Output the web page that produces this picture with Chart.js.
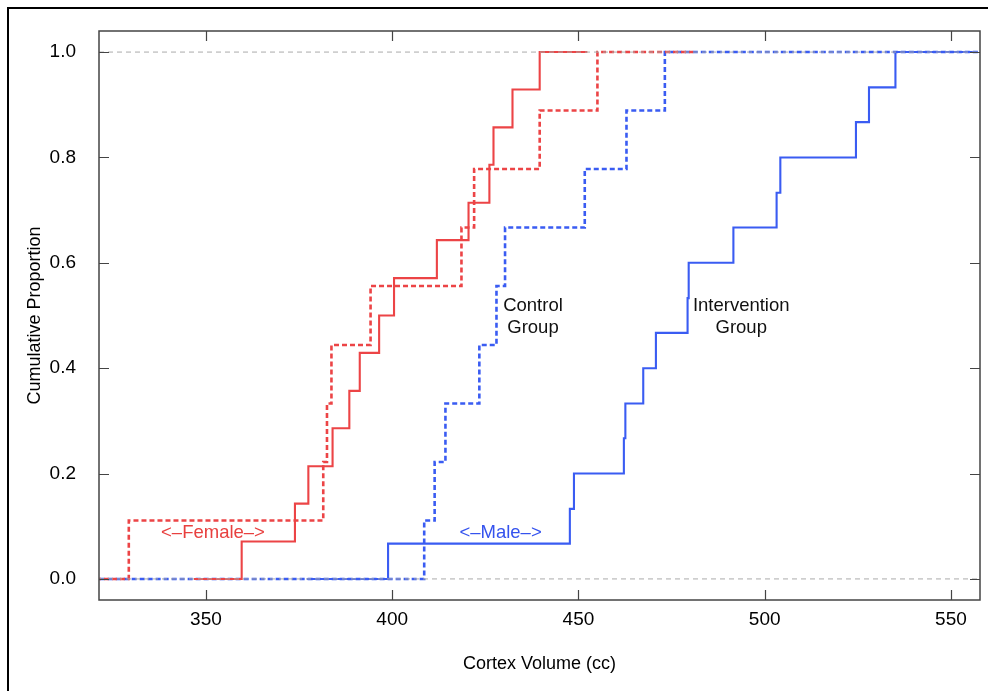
<!DOCTYPE html>
<html>
<head>
<meta charset="utf-8">
<script src="https://cdn.jsdelivr.net/npm/chart.js@4"></script>
<style>
  html, body { margin: 0; padding: 0; background: #fff; overflow: hidden; }
  #wrap { position: relative; width: 988px; height: 691px; }
  #c { position: absolute; left: 0; top: 0; }
  #frame { position: absolute; left: 7px; top: 7px; width: 1000px; height: 720px;
           border-left: 2px solid #000; border-top: 2px solid #000; pointer-events: none; }
</style>
</head>
<body>
<div id="wrap">
  <canvas id="c" width="988" height="691"></canvas>
  <div id="frame"></div>
</div>
<script>
// ---- data ----
const xTicks = [350, 400, 450, 500, 550];
const yTicks = [0, 0.2, 0.4, 0.6, 0.8, 1.0];

// Female, intervention group (solid red): jump locations and cumulative proportions
const femaleIntervention = [359.6, 373.9, 377.5, 384.0, 388.5, 391.3, 396.5, 400.5, 412.0, 420.5, 426.1, 427.2, 432.3, 439.6];
const femaleInterventionProp = [0.071, 0.143, 0.214, 0.286, 0.357, 0.429, 0.500, 0.571, 0.643, 0.714, 0.786, 0.857, 0.929, 1.000];
const femaleInterventionSpan = [346.8, 452.4];

// Female, control group (dashed red)
const femaleControl = [329.3, 381.5, 382.5, 383.7, 394.2, 418.6, 422.0, 439.6, 455.1];
const femaleControlProp = [0.111, 0.222, 0.333, 0.444, 0.556, 0.667, 0.778, 0.889, 1.000];
const femaleControlSpan = [303.3, 480.8];

// Male, control group (dashed blue)
const maleControl = [408.6, 411.4, 414.3, 423.4, 428.0, 430.3, 451.7, 462.9, 473.2];
const maleControlProp = [0.111, 0.222, 0.333, 0.444, 0.556, 0.667, 0.778, 0.889, 1.000];
const maleControlSpan = [300.0, 580.0];

// Male, intervention group (solid blue)
const maleIntervention = [398.9, 447.7, 448.8, 462.2, 462.6, 467.4, 470.8, 479.3, 479.6, 491.6, 503.2, 504.2, 524.5, 528.0, 535.1];
const maleInterventionProp = [0.067, 0.133, 0.200, 0.267, 0.333, 0.400, 0.467, 0.533, 0.600, 0.667, 0.733, 0.800, 0.867, 0.933, 1.000];
const maleInterventionSpan = [377.1, 556.9];

const xRange = [321.3, 557.8];
const yRange = [-0.04, 1.04];

// text annotations (data coordinates)
const notes = [
  { text: '<\u2013Female\u2013>', x: 351.9, y: 0.087, color: '#e8403f' },
  { text: '<\u2013Male\u2013>', x: 429.1, y: 0.087, color: '#3553ee' },
  { text: 'Control', x: 437.8, y: 0.519, color: '#111' },
  { text: 'Group', x: 437.8, y: 0.477, color: '#111' },
  { text: 'Intervention', x: 493.7, y: 0.518, color: '#111' },
  { text: 'Group', x: 493.7, y: 0.476, color: '#111' }
];

// ---- build step series ----
function ecdf(jumps, props, span) {
  const pts = [{ x: span[0], y: 0 }];
  jumps.forEach((x, i) => pts.push({ x: x, y: props[i] }));
  pts.push({ x: span[1], y: 1 });
  return pts;
}

const RED = '#ec4446';
const BLUE = '#3a5cf2';
const FONT = "'Liberation Sans', Arial, Helvetica, sans-serif";

const refLine = (yv) => ({
  data: [{ x: xRange[0], y: yv }, { x: xRange[1], y: yv }],
  showLine: true, borderColor: '#ababab', borderWidth: 1, borderDash: [5, 4],
  pointRadius: 0, order: 0
});

const stepSet = (pts, color, dashed) => ({
  data: pts, showLine: true, stepped: 'before', borderColor: color,
  borderWidth: dashed ? 2.6 : 2.1, borderDash: dashed ? [5, 3] : [],
  pointRadius: 0, order: 1, tension: 0
});

const framePlugin = {
  id: 'framePlugin',
  afterDatasetsDraw(chart) {
    const ctx = chart.ctx, a = chart.chartArea;
    const xs = chart.scales.x, ys = chart.scales.y;
    ctx.save();
    // annotations
    ctx.font = '18.5px ' + FONT;
    ctx.textAlign = 'center';
    ctx.textBaseline = 'middle';
    notes.forEach(n => {
      ctx.fillStyle = n.color;
      ctx.fillText(n.text, xs.getPixelForValue(n.x), ys.getPixelForValue(n.y));
    });
    // frame and inward ticks
    ctx.strokeStyle = '#444';
    ctx.lineWidth = 1.5;
    ctx.strokeRect(a.left, a.top, a.right - a.left, a.bottom - a.top);
    ctx.lineWidth = 1.2;
    ctx.beginPath();
    const L = 10;
    xTicks.forEach(v => {
      const px = Math.round(xs.getPixelForValue(v)) + 0.5;
      ctx.moveTo(px, a.bottom); ctx.lineTo(px, a.bottom - L);
      ctx.moveTo(px, a.top); ctx.lineTo(px, a.top + L);
    });
    yTicks.forEach(v => {
      const py = Math.round(ys.getPixelForValue(v)) + 0.5;
      ctx.moveTo(a.left, py); ctx.lineTo(a.left + L, py);
      ctx.moveTo(a.right, py); ctx.lineTo(a.right - L, py);
    });
    ctx.stroke();
    ctx.restore();
  }
};

new Chart(document.getElementById('c'), {
  type: 'scatter',
  data: {
    datasets: [
      refLine(0), refLine(1),
      stepSet(ecdf(femaleIntervention, femaleInterventionProp, femaleInterventionSpan), RED, false),
      stepSet(ecdf(femaleControl, femaleControlProp, femaleControlSpan), RED, true),
      stepSet(ecdf(maleControl, maleControlProp, maleControlSpan), BLUE, true),
      stepSet(ecdf(maleIntervention, maleInterventionProp, maleInterventionSpan), BLUE, false)
    ]
  },
  options: {
    responsive: false,
    animation: false,
    devicePixelRatio: 1,
    layout: { padding: { left: 0, top: 31, right: 8, bottom: 0 } },
    plugins: { legend: { display: false }, tooltip: { enabled: false } },
    scales: {
      x: {
        type: 'linear', min: xRange[0], max: xRange[1],
        afterBuildTicks: s => { s.ticks = xTicks.map(v => ({ value: v })); },
        afterFit: s => { s.height = 91; s.paddingLeft = 0; s.paddingRight = 0; },
        grid: { display: false, drawTicks: false },
        border: { display: false },
        ticks: { color: '#000', padding: 8, font: { size: 19, family: FONT }, maxRotation: 0 },
        title: { display: true, text: 'Cortex Volume (cc)', color: '#000',
                 font: { size: 18, family: FONT }, padding: { top: 0, bottom: 16 } }
      },
      y: {
        type: 'linear', min: yRange[0], max: yRange[1],
        afterBuildTicks: s => { s.ticks = yTicks.map(v => ({ value: v })); },
        afterFit: s => { s.width = 99; s.paddingTop = 0; s.paddingBottom = 0; },
        grid: { display: false, drawTicks: false },
        border: { display: false },
        ticks: { color: '#000', padding: 23, font: { size: 19, family: FONT },
                 callback: v => Number(v).toFixed(1) },
        title: { display: true, text: 'Cumulative Proportion', color: '#000',
                 font: { size: 18, family: FONT }, padding: { top: 24, bottom: 0 } }
      }
    }
  },
  plugins: [framePlugin]
});
</script>
</body>
</html>
